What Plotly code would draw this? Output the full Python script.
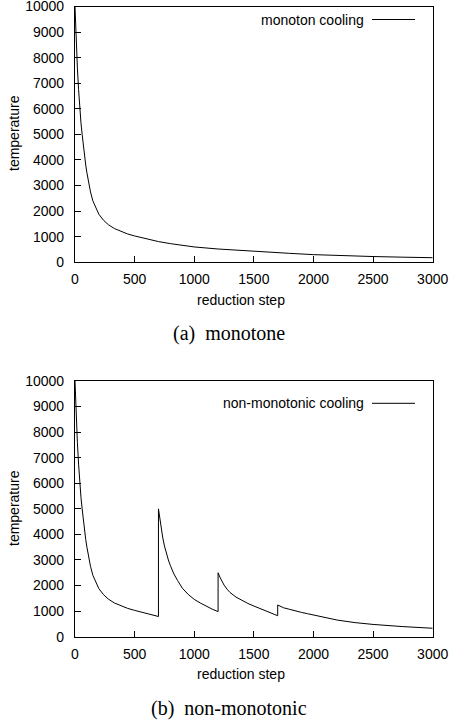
import plotly.graph_objects as go

# ---- data ----
mono_step = [0, 5, 10, 15, 20, 30, 40, 50, 60, 70, 80, 90, 100, 115, 130, 150, 175, 200, 240, 280, 330, 380,
             440, 500, 570, 630, 700, 800, 900, 1000, 1200, 1400, 1600, 1800, 2000, 2250, 2500, 2750, 3000]
mono_temp = [10000, 9300, 8650, 8100, 7600, 6750, 6000, 5450, 5000, 4550, 4150, 3800, 3500, 3100, 2750, 2400, 2100, 1880, 1640, 1470, 1320, 1210,
             1110, 1030, 950, 880, 810, 730, 660, 600, 520, 455, 400, 350, 300, 255, 225, 200, 180]

nonmono_step = [0, 5, 10, 15, 20, 30, 40, 50, 60, 70, 80, 90, 100, 115, 130, 150, 175, 200, 240, 280, 330, 380,
                440, 500, 570, 630, 700,
                700, 710, 720, 735, 750, 765, 783, 800, 830, 860, 900, 950, 1000, 1050, 1100, 1150, 1200,
                1200, 1215, 1230, 1250, 1275, 1300, 1350, 1400, 1450, 1500, 1550, 1600, 1650, 1700,
                1700, 1725, 1750, 1800, 1850, 1900, 1950, 2000, 2100, 2200, 2350, 2500, 2750, 3000]
nonmono_temp = [10000, 9300, 8650, 8100, 7600, 6750, 6000, 5450, 5000, 4550, 4150, 3800, 3500, 3100, 2750, 2400, 2100, 1880, 1640, 1470, 1320, 1210,
                1110, 1030, 950, 870, 790,
                5000, 4650, 4300, 3900, 3550, 3250, 3000, 2780, 2450, 2200, 1900, 1650, 1460, 1320, 1190, 1080, 980,
                2500, 2330, 2180, 2020, 1860, 1730, 1550, 1420, 1300, 1200, 1100, 1000, 910, 820,
                1240, 1180, 1130, 1070, 1000, 950, 900, 850, 750, 650, 550, 480, 395, 330]

x_ticks = [0, 500, 1000, 1500, 2000, 2500, 3000]
y_ticks = [0, 1000, 2000, 3000, 4000, 5000, 6000, 7000, 8000, 9000, 10000]
x_tick_text = [str(v) for v in x_ticks]
y_tick_text = [str(v) for v in y_ticks]

W, H = 453, 724
FONT = "Liberation Sans, Arial, Helvetica, sans-serif"
SERIF = "Liberation Serif, Times New Roman, serif"
FS = 14

def py(p):
    return 1 - p / H

def px(p):
    return p / W

fig = go.Figure()
fig.add_trace(go.Scatter(x=mono_step, y=mono_temp, mode="lines",
                         line=dict(color="black", width=1), xaxis="x", yaxis="y", showlegend=False))
fig.add_trace(go.Scatter(x=nonmono_step, y=nonmono_temp, mode="lines",
                         line=dict(color="black", width=1), xaxis="x2", yaxis="y2", showlegend=False))

xd = [px(75), px(432.7)]
axis_common = dict(showline=True, linecolor="black", linewidth=1.2, mirror=True,
                   ticks="inside", ticklen=6, tickwidth=1, tickcolor="black",
                   showgrid=False, zeroline=False, automargin=False, ticklabeloverflow="allow",
                   tickfont=dict(family=FONT, size=FS, color="black"))
xax = dict(range=[0, 3000], tickvals=x_ticks, ticktext=x_tick_text, ticklabelstandoff=4, **axis_common)
yax = dict(range=[0, 10000], tickvals=y_ticks, ticktext=y_tick_text, ticklabelstandoff=7, **axis_common)

fig.update_layout(
    width=W, height=H, margin=dict(l=0, r=0, t=0, b=0),
    paper_bgcolor="white", plot_bgcolor="white",
    xaxis=dict(domain=xd, anchor="y", **xax),
    yaxis=dict(domain=[py(262.3), py(6.5)], anchor="x", **yax),
    xaxis2=dict(domain=xd, anchor="y2", **xax),
    yaxis2=dict(domain=[py(636.7), py(381)], anchor="x2", **yax),
)

ann = []
for (ylab_c, xlab_c, cap_y, cap, leg_y, leg) in [
    (133, 300, 333, "(a)\u00a0\u00a0monotone", 19.5, "monoton cooling"),
    (508, 674, 708, "(b)\u00a0\u00a0non-monotonic", 403.3, "non-monotonic cooling"),
]:
    ann.append(dict(x=px(14), y=py(ylab_c), xref="paper", yref="paper", text="temperature",
                    textangle=-90, showarrow=False, font=dict(family=FONT, size=FS, color="black"),
                    xanchor="center", yanchor="middle"))
    ann.append(dict(x=px(241), y=py(xlab_c), xref="paper", yref="paper", text="reduction step",
                    showarrow=False, font=dict(family=FONT, size=FS, color="black"),
                    xanchor="center", yanchor="middle"))
    ann.append(dict(x=px(229), y=py(cap_y), xref="paper", yref="paper", text=cap,
                    showarrow=False, font=dict(family=SERIF, size=20, color="black"),
                    xanchor="center", yanchor="middle"))
    ann.append(dict(x=px(366), y=py(leg_y), xref="paper", yref="paper", text=leg,
                    showarrow=False, font=dict(family=FONT, size=FS, color="black"),
                    xanchor="right", yanchor="middle"))
    fig.add_shape(type="line", xref="paper", yref="paper", x0=px(372), x1=px(415),
                  y0=py(leg_y), y1=py(leg_y), line=dict(color="black", width=1))

fig.update_layout(annotations=ann)
fig.write_html("out.html", config={"displayModeBar": False},
               post_script="document.body.style.margin='0';document.body.style.overflow='hidden';")
